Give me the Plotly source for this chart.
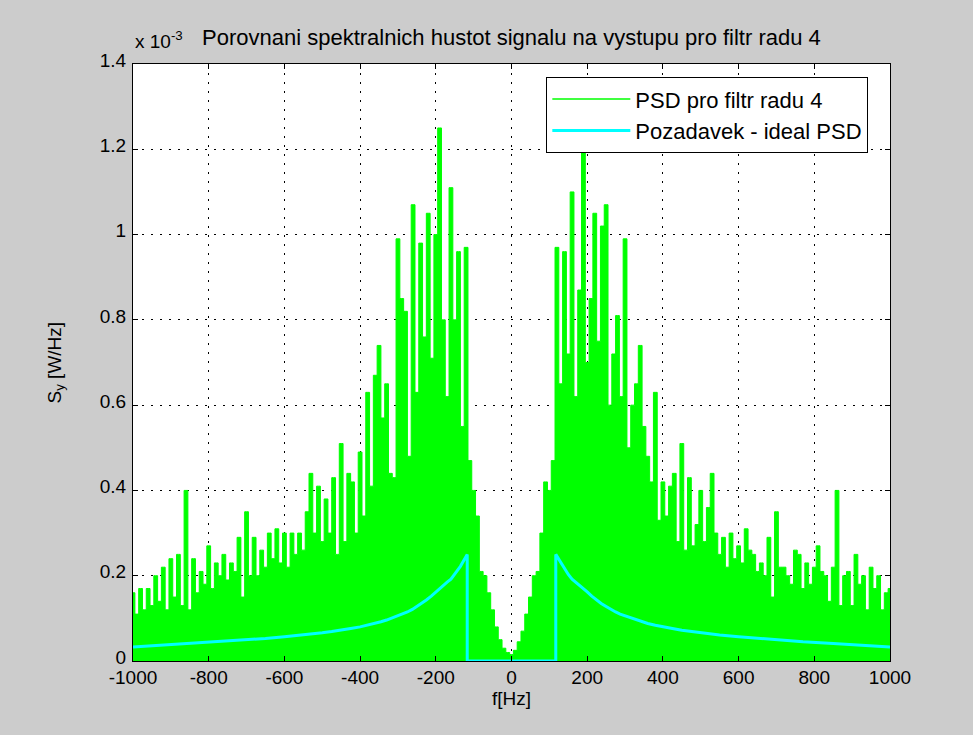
import numpy as np
import plotly.graph_objects as go

# ---------------- data (PSD values in units of 1e-3 W/Hz) ----------------
freq = list(range(-1000, 1001, 10))  # Hz, 10 Hz grid

psd_left_far = [0.16, 0.11, 0.17, 0.12, 0.17, 0.13, 0.20, 0.14, 0.22, 0.12,
                0.24, 0.15, 0.25, 0.13, 0.40, 0.12, 0.24, 0.16, 0.21, 0.18,
                0.27, 0.17, 0.23, 0.20, 0.25, 0.19, 0.23, 0.21, 0.29, 0.15,
                0.35, 0.20, 0.29, 0.20, 0.26, 0.22, 0.30, 0.24, 0.31, 0.23,
                0.30, 0.22, 0.30, 0.25, 0.30, 0.26, 0.35, 0.44, 0.30, 0.41,
                0.28, 0.38]  # -1000 .. -490
psd_left_near = [0.30, 0.43, 0.25, 0.51, 0.28, 0.44, 0.42, 0.30, 0.49, 0.34,
                 0.63, 0.41, 0.67, 0.74, 0.57, 0.65, 0.44, 0.43, 0.99, 0.85,
                 0.82, 0.48, 1.07, 0.63, 0.98, 0.76, 1.05, 0.71, 1.00, 1.25,
                 0.80, 0.62, 1.11, 0.80, 0.96, 0.55, 0.97, 0.47, 0.40, 0.34,
                 0.21, 0.20, 0.16, 0.12, 0.08, 0.05, 0.03, 0.02, 0.015]  # -480 .. 0
psd_right_near = [0.025, 0.045, 0.07, 0.11, 0.15, 0.20, 0.21, 0.30, 0.42, 0.40,
                  0.47, 0.97, 0.65, 0.96, 0.72, 1.10, 0.62, 0.87, 1.20, 0.70,
                  0.85, 1.05, 0.75, 1.02, 1.07, 0.60, 0.72, 0.81, 0.62, 0.99,
                  0.50, 0.60, 0.65, 0.74, 0.55, 0.48, 0.42, 0.63, 0.33, 0.42,
                  0.34, 0.41, 0.44, 0.28, 0.51, 0.26, 0.43, 0.27]  # 10 .. 480
psd_right_far = [0.32, 0.40, 0.28, 0.36, 0.44, 0.30, 0.25, 0.29, 0.22, 0.30,
                 0.24, 0.27, 0.23, 0.31, 0.26, 0.25, 0.21, 0.23, 0.20, 0.29,
                 0.15, 0.35, 0.22, 0.22, 0.20, 0.18, 0.26, 0.25, 0.17, 0.23,
                 0.18, 0.22, 0.27, 0.21, 0.20, 0.14, 0.22, 0.40, 0.13, 0.20,
                 0.21, 0.13, 0.25, 0.18, 0.20, 0.12, 0.22, 0.17, 0.20, 0.12,
                 0.16, 0.17]  # 490 .. 1000
psd = psd_left_far + psd_left_near + psd_right_near + psd_right_far

# ideal PSD read at |f| (Hz); zero inside the +-117 Hz band
ideal_abs_f = [117, 121, 125, 130, 135, 140, 150, 160, 170, 180, 190, 200, 212,
               225, 237, 250, 262, 275, 287, 300, 315, 330, 345, 360, 380, 400,
               425, 450, 475, 500, 550, 600, 650, 700, 770, 850, 925, 1000]
ideal_abs_v = [0.250, 0.244, 0.238, 0.230, 0.222, 0.215, 0.203, 0.192, 0.185,
               0.178, 0.170, 0.162, 0.152, 0.143, 0.135, 0.128, 0.121, 0.115,
               0.110, 0.106, 0.101, 0.096, 0.092, 0.088, 0.084, 0.080, 0.076,
               0.072, 0.069, 0.066, 0.061, 0.057, 0.053, 0.050, 0.045, 0.041,
               0.037, 0.033]
ideal_f = [-f for f in reversed(ideal_abs_f)] + [-117, 117] + ideal_abs_f
ideal_psd = list(reversed(ideal_abs_v)) + [0.0, 0.0] + ideal_abs_v

x_ticks = [-1000, -800, -600, -400, -200, 0, 200, 400, 600, 800, 1000]
x_tick_text = ["-1000", "-800", "-600", "-400", "-200", "0", "200", "400", "600", "800", "1000"]
y_ticks = [0, 0.2, 0.4, 0.6, 0.8, 1.0, 1.2, 1.4]
y_tick_text = ["0", "0.2", "0.4", "0.6", "0.8", "1", "1.2", "1.4"]

title_text = "Porovnani spektralnich hustot signalu na vystupu pro filtr radu 4"
legend_names = ["PSD pro filtr radu 4", "Pozadavek - ideal PSD"]

# ---------------- figure ----------------
FONT = "Liberation Sans, Arial, sans-serif"
GREEN = "#00ff00"
CYAN = "#00ffff"

fig = go.Figure()
fig.add_trace(go.Scatter(
    x=freq, y=psd, mode="lines", line_shape="hvh", showlegend=False,
    line=dict(color=GREEN, width=1), fill="tozeroy", fillcolor=GREEN))
fig.add_trace(go.Scatter(
    x=ideal_f, y=ideal_psd, mode="lines", showlegend=False,
    line=dict(color=CYAN, width=3)))
# legend entries (line samples)
fig.add_trace(go.Scatter(x=[None], y=[None], mode="lines", name=legend_names[0],
                         line=dict(color=GREEN, width=1.5)))
fig.add_trace(go.Scatter(x=[None], y=[None], mode="lines", name=legend_names[1],
                         line=dict(color=CYAN, width=3)))

axis_common = dict(
    showline=True, linecolor="black", linewidth=1, mirror="ticks",
    ticks="inside", ticklen=5, tickcolor="black",
    showgrid=True, gridcolor="black", griddash="2px,7px", gridwidth=1,
    zeroline=False,
)

fig.update_xaxes(range=[-1000, 1000], tickvals=x_ticks, ticktext=x_tick_text,
                 ticklabelstandoff=-1, tickfont=dict(family=FONT, size=19, color="black"),
                 **axis_common)
fig.update_yaxes(range=[0, 1.4], tickvals=y_ticks, ticktext=y_tick_text,
                 ticklabelstandoff=2, ticklabelshift=-4,
                 tickfont=dict(family=FONT, size=19, color="black"), **axis_common)

fig.update_layout(
    width=973, height=735,
    paper_bgcolor="#cccccc", plot_bgcolor="white",
    margin=dict(l=133, r=83, t=64, b=74),
    showlegend=True,
    legend=dict(x=0.546, y=0.978, xanchor="left", yanchor="top",
                bgcolor="white", bordercolor="black", borderwidth=1,
                font=dict(family=FONT, size=22, color="black"),
                itemwidth=78, tracegroupgap=4),
    annotations=[
        dict(text=title_text, xref="paper", yref="paper", x=0.5, y=1.0,
             xanchor="center", yanchor="bottom", yshift=12, showarrow=False,
             font=dict(family=FONT, size=22, color="black")),
        dict(text="x 10<sup>-3</sup>", xref="paper", yref="paper", x=0.0, y=1.0,
             xanchor="left", yanchor="bottom", yshift=10, showarrow=False,
             font=dict(family=FONT, size=19, color="black")),
        dict(text="f[Hz]", xref="paper", yref="paper", x=0.5, y=0.0,
             xanchor="center", yanchor="top", yshift=-25, showarrow=False,
             font=dict(family=FONT, size=19, color="black")),
        dict(text="S<sub>y</sub> [W/Hz]", xref="paper", yref="paper", x=0.0, y=0.5,
             xanchor="right", yanchor="middle", xshift=-64, textangle=-90,
             showarrow=False, font=dict(family=FONT, size=19, color="black")),
    ],
)

fig.write_html("out.html")
